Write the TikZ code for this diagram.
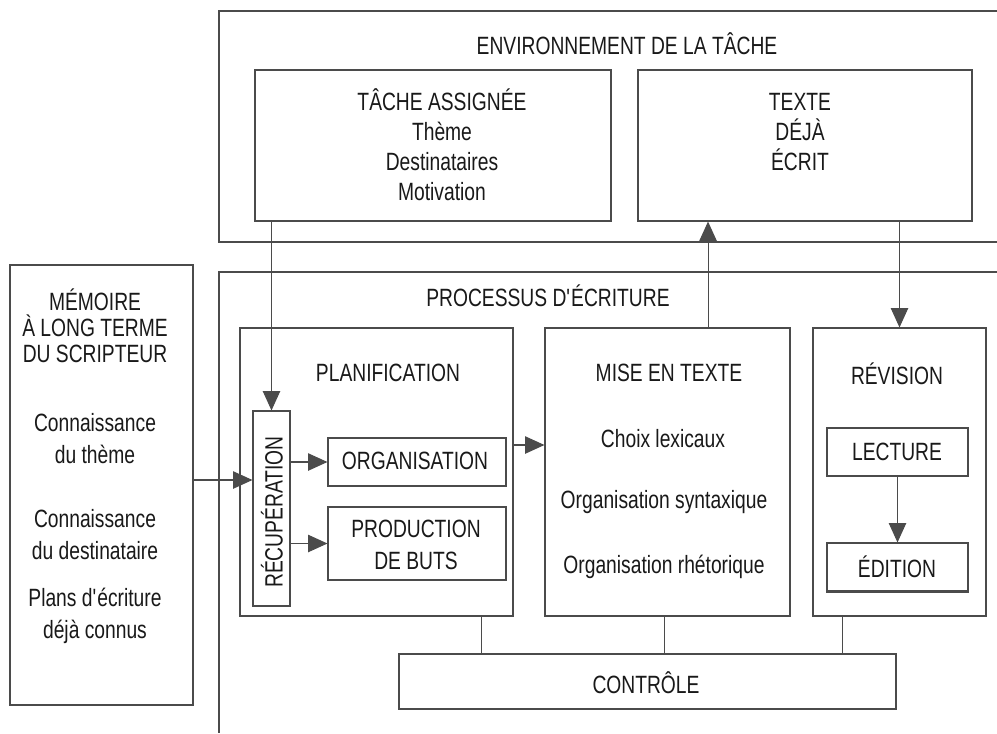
\documentclass[tikz,border=0pt]{standalone}
\usepackage{fontspec}
\setmainfont{Liberation Sans}[FakeStretch=0.77]
\usetikzlibrary{arrows.meta,fit,positioning}
\definecolor{linegray}{RGB}{75,75,75}
\definecolor{textgray}{RGB}{25,25,25}
\tikzset{
  box/.style={draw=linegray, line width=0.8pt, inner sep=0pt},
  wire/.style={draw=linegray, line width=0.8pt},
  arr/.style={draw=linegray, line width=0.8pt, -{Triangle[length=14.5pt,width=13pt]}},
  lbl/.style={text=textgray, font=\fontsize{18.75}{22.5}\selectfont, align=center, inner sep=0pt},
}
\begin{document}
\begin{tikzpicture}[x=0.75pt,y=0.75pt,yscale=-1,xscale=1]
\useasboundingbox (0,0) rectangle (997,733); %picture is 997 x 733

%Shape: open frames
\draw[wire] (997,11) -| (219,242) -- (997,242);
\draw[wire] (997,272) -| (219,733);

%Shape: boxes
\node[box, fit={(10,265) (193,705)}] (memoire) {};
\node[box, fit={(255,70) (611,221)}] (tache) {};
\node[box, fit={(638,70) (972,221)}] (texte) {};
\node[box, fit={(240,328) (513,616)}] (planif) {};
\node[box, fit={(253,411) (290,606)}] (recup) {};
\node[box, fit={(328,438) (506,486)}] (orga) {};
\node[box, fit={(328,507) (506,580)}] (prod) {};
\node[box, fit={(545,328) (790,616)}] (mise) {};
\node[box, fit={(813,328) (986,616)}] (revision) {};
\node[box, fit={(827,428) (968,476)}] (lecture) {};
\node[box, fit={(827,543) (968,591)}] (edition) {};
\node[box, fit={(399,654) (896,709)}] (controle) {};
\draw[wire, line width=1.6pt] (edition.south west) -- (edition.south east);

%Straight Lines: arrows
\draw[arr] (tache.south -| recup.north) -- (recup.north);
\draw[arr] ([yshift=-3.75pt]memoire.east) -- ([yshift=-3.75pt]memoire.east -| recup.west);
\draw[arr] (recup.east |- orga.west) -- (orga.west);
\draw[arr] (recup.east |- prod.west) -- (prod.west);
\draw[arr] ([yshift=-20.25pt]planif.east) -- ([yshift=-20.25pt]planif.east -| mise.west);
\draw[arr] ([xshift=30.4pt]mise.north) -- ([xshift=30.4pt]mise.north |- texte.south);
\draw[arr] (revision.north |- texte.south) -- (revision.north);
\draw[arr] (lecture) -- (edition);

%Straight Lines: control
\draw[wire] ([xshift=78.4pt]planif.south) -- ([xshift=78.4pt]planif.south |- controle.north);
\draw[wire] ([xshift=-2.6pt]mise.south) -- ([xshift=-2.6pt]mise.south |- controle.north);
\draw[wire] ([xshift=-43.1pt]revision.south) -- ([xshift=-43.1pt]revision.south |- controle.north);

% Text Node
\node[lbl] (envT) at (627,44) {ENVIRONNEMENT DE LA TÂCHE};
\node[lbl] (tacheT) at (442,145) {TÂCHE ASSIGNÉE\\Thème\\Destinataires\\Motivation};
\node[lbl] (texteT) at (800,132) {TEXTE\\DÉJÀ\\ÉCRIT};
\node[lbl] (procT) at (548,296) {PROCESSUS D\textquotesingle ÉCRITURE};
\node[lbl, font=\fontsize{18.75}{19.5}\selectfont] (memT) at (95,326) {MÉMOIRE\\À LONG TERME\\DU SCRIPTEUR};
\node[lbl, font=\fontsize{18.75}{24}\selectfont] (themeT) at (95,439) {Connaissance\\du thème};
\node[lbl, font=\fontsize{18.75}{24}\selectfont] (destT) at (95,535) {Connaissance\\du destinataire};
\node[lbl, font=\fontsize{18.75}{24}\selectfont] (plansT) at (95,616) {Plans d\textquotesingle écriture\\déjà connus};
\node[lbl] (planifT) at (388,373) {PLANIFICATION};
\node[lbl, rotate=90] (recupT) at (272,512) {RÉCUPÉRATION};
\node[lbl] (orgaT) at (415,461) {ORGANISATION};
\node[lbl, font=\fontsize{18.75}{24}\selectfont] (prodT) at (416,545) {PRODUCTION\\DE BUTS};
\node[lbl] (miseT) at (669,373) {MISE EN TEXTE};
\node[lbl] (choixT) at (663,439) {Choix lexicaux};
\node[lbl] (syntT) at (664,502) {Organisation syntaxique};
\node[lbl] (rhetT) at (664,567) {Organisation rhétorique};
\node[lbl] (revT) at (897,374) {RÉVISION};
\node[lbl] (lectT) at (897,452) {LECTURE};
\node[lbl] (editT) at (897,567) {ÉDITION};
\node[lbl] (ctrlT) at (646,683) {CONTRÔLE};

\end{tikzpicture}
\end{document}
